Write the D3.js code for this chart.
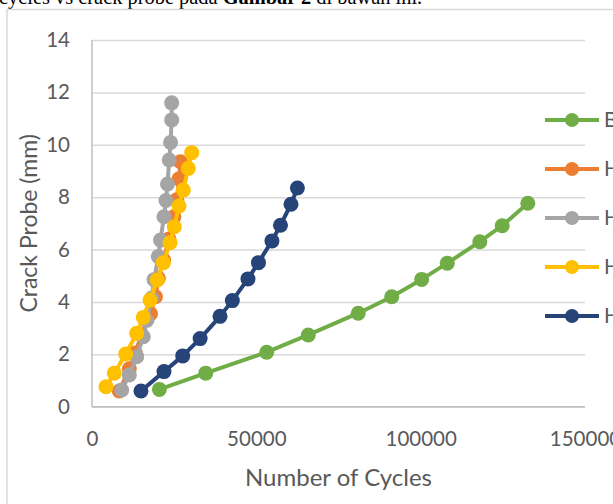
<!DOCTYPE html>
<html>
<head>
<meta charset="utf-8">
<script src="https://cdn.jsdelivr.net/npm/d3@7"></script>
<style>
  html, body { margin: 0; padding: 0; background: #fff; }
  svg { display: block; }
</style>
</head>
<body>
<svg id="chart" width="613" height="504"></svg>
<script>
// Crack growth: number of cycles against crack probe depth
const seriesNames = ["Base Metal", "HAZ 1", "HAZ 2", "HAZ 3", "HAZ 4"];
const seriesColors = ["#70AD47", "#ED7D31", "#A5A5A5", "#FFC000", "#264478"];

const baseCycles = [20500, 34600, 53150, 65800, 81000, 91200, 100300, 108100, 118000, 124800, 132600];
const baseCrack  = [0.66, 1.28, 2.08, 2.74, 3.57, 4.20, 4.86, 5.48, 6.30, 6.91, 7.77];

const haz1Cycles = [8300, 11350, 13200, 15000, 17800, 19300, 20200, 21800, 23400, 24900, 25800, 26500, 26900];
const haz1Crack  = [0.60, 1.45, 2.05, 2.75, 3.55, 4.20, 4.90, 5.60, 6.40, 7.25, 7.90, 8.70, 9.35];

const haz2Cycles = [9040, 11350, 13600, 15600, 16700, 18160, 18900, 20170, 20840, 21900, 22500, 22970, 23500, 23900, 24250, 24250];
const haz2Crack  = [0.64, 1.21, 1.91, 2.67, 3.30, 4.15, 4.85, 5.73, 6.36, 7.25, 7.87, 8.50, 9.42, 10.09, 10.95, 11.60];

const haz3Cycles = [4260, 6790, 10250, 13600, 15600, 17650, 19870, 21700, 23730, 25040, 26470, 27780, 29300, 30330];
const haz3Crack  = [0.76, 1.28, 2.01, 2.80, 3.41, 4.07, 4.84, 5.50, 6.26, 6.87, 7.66, 8.27, 9.10, 9.70];

const haz4Cycles = [14900, 21900, 27600, 32900, 38950, 42700, 47450, 50650, 54750, 57350, 60550, 62500];
const haz4Crack  = [0.60, 1.34, 1.94, 2.60, 3.45, 4.05, 4.88, 5.50, 6.33, 6.93, 7.73, 8.35];

const xTicks = [0, 50000, 100000, 150000];
const yTicks = [0, 2, 4, 6, 8, 10, 12, 14];

const xTitle = "Number of Cycles";
const yTitle = "Crack Probe (mm)";

const allCycles = [baseCycles, haz1Cycles, haz2Cycles, haz3Cycles, haz4Cycles];
const allCrack  = [baseCrack, haz1Crack, haz2Crack, haz3Crack, haz4Crack];

const series = seriesNames.map((name, i) => ({
  name,
  color: seriesColors[i],
  points: allCycles[i].map((c, j) => ({ x: c, y: allCrack[i][j] }))
}));

const svg = d3.select("#chart");
const font = "Lato, 'Open Sans', sans-serif";
const textColor = "#595959";

// Plot frame
const plotLeft = 92, plotRight = 585, plotTop = 40, plotBottom = 406.7;
const x = d3.scaleLinear().domain([0, 150000]).range([plotLeft, plotRight]);
const y = d3.scaleLinear().domain([0, 14]).range([plotBottom, plotTop]);

// Surrounding paragraph line, cut by the page edge
svg.append("text")
  .attr("x", -1).attr("y", 4)
  .attr("font-family", "'Liberation Serif', 'Times New Roman', serif")
  .attr("font-size", 20.4)
  .attr("fill", "#000")
  .call(t => {
    t.append("tspan").text("cycles vs crack probe pada ");
    t.append("tspan").attr("font-weight", "bold").text("Gambar 2");
    t.append("tspan").text(" di bawah ini.");
  });

// Chart area border
svg.append("rect")
  .attr("x", 7).attr("y", 9.5)
  .attr("width", 640).attr("height", 520)
  .attr("fill", "none")
  .attr("stroke", "#d9d9d9")
  .attr("stroke-width", 1.5);

// Y axis with horizontal gridlines
const yAxis = svg.append("g")
  .attr("transform", `translate(${plotLeft},0)`)
  .call(d3.axisLeft(y).tickValues(yTicks).tickSize(-(plotRight - plotLeft)).tickPadding(22));
yAxis.select(".domain").remove();
yAxis.selectAll(".tick line").attr("stroke", "#d9d9d9").attr("stroke-width", 1.5);
yAxis.selectAll(".tick text")
  .attr("font-family", font).attr("font-size", 20.5).attr("fill", textColor);

// X axis labels
const xAxis = svg.append("g")
  .attr("transform", `translate(0,${plotBottom})`)
  .call(d3.axisBottom(x).tickValues(xTicks).tickFormat(d3.format("d")).tickSize(0).tickPadding(25));
xAxis.select(".domain").remove();
xAxis.selectAll(".tick text")
  .attr("font-family", font).attr("font-size", 20.5).attr("fill", textColor);

// Axis lines
svg.append("line")
  .attr("x1", plotLeft).attr("x2", plotRight).attr("y1", plotBottom).attr("y2", plotBottom)
  .attr("stroke", "#bfbfbf").attr("stroke-width", 1.5);
svg.append("line")
  .attr("x1", plotLeft).attr("x2", plotLeft).attr("y1", plotTop).attr("y2", plotBottom)
  .attr("stroke", "#bfbfbf").attr("stroke-width", 1.5);

// Axis titles
svg.append("text")
  .attr("x", (plotLeft + plotRight) / 2).attr("y", 486)
  .attr("text-anchor", "middle")
  .attr("font-family", font).attr("font-size", 24).attr("fill", textColor)
  .text(xTitle);
svg.append("text")
  .attr("transform", `translate(37,${(plotTop + plotBottom) / 2}) rotate(-90)`)
  .attr("text-anchor", "middle")
  .attr("font-family", font).attr("font-size", 23).attr("fill", textColor)
  .text(yTitle);

// Series lines and markers
const line = d3.line().x(d => x(d.x)).y(d => y(d.y));
const groups = svg.selectAll("g.series")
  .data(series)
  .join("g")
  .attr("class", "series");

groups.append("path")
  .attr("d", d => line(d.points))
  .attr("fill", "none")
  .attr("stroke", d => d.color)
  .attr("stroke-width", 4)
  .attr("stroke-linejoin", "round");

groups.each(function (d) {
  d3.select(this).selectAll("circle")
    .data(d.points)
    .join("circle")
    .attr("cx", p => x(p.x))
    .attr("cy", p => y(p.y))
    .attr("r", 7.5)
    .attr("fill", d.color);
});

// Legend
const legend = svg.append("g");
const legendY = d3.scalePoint().domain(seriesNames).range([120, 316]);
const items = legend.selectAll("g")
  .data(series)
  .join("g")
  .attr("transform", d => `translate(0,${legendY(d.name)})`);
items.append("line")
  .attr("x1", 545).attr("x2", 599).attr("y1", 0).attr("y2", 0)
  .attr("stroke", d => d.color).attr("stroke-width", 4);
items.append("circle")
  .attr("cx", 572).attr("cy", 0).attr("r", 7)
  .attr("fill", d => d.color);
items.append("text")
  .attr("x", 604).attr("y", 0).attr("dy", "0.35em")
  .attr("font-family", font).attr("font-size", 20.5).attr("fill", textColor)
  .text(d => d.name);
</script>
</body>
</html>
